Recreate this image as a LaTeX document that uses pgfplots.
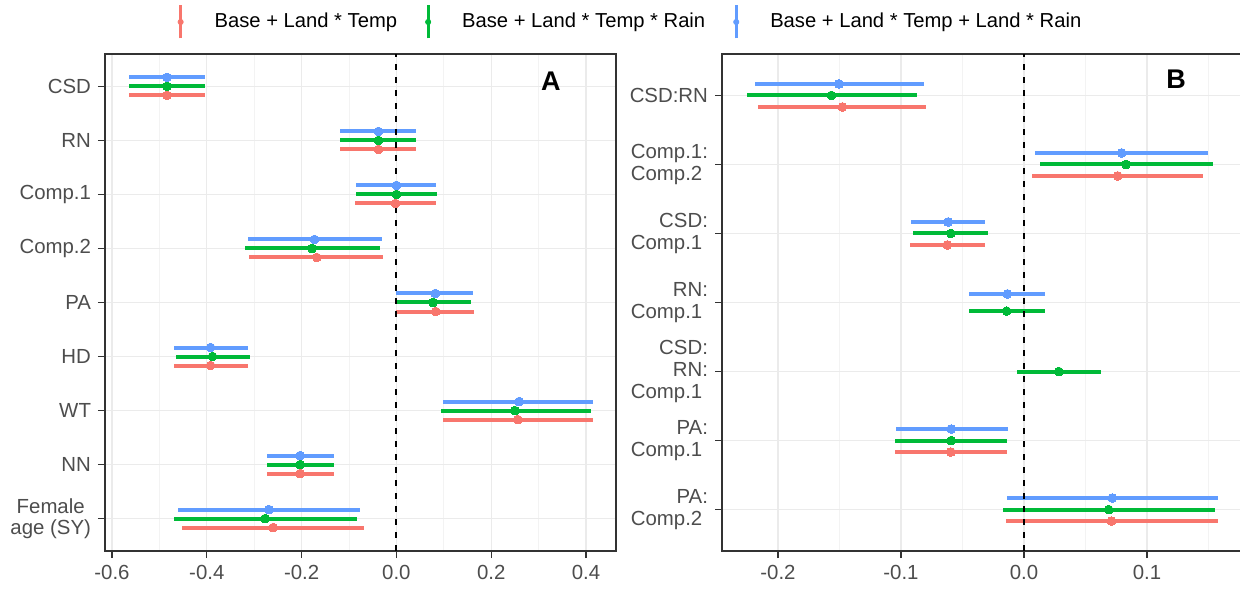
\documentclass[border=0pt]{standalone}
\usepackage{fontspec}
\setmainfont{Liberation Sans}
\usepackage{pgfplots}
\pgfplotsset{compat=1.18}
\usepackage{pgfplotstable}

\definecolor{cR}{HTML}{F8766D}
\definecolor{cG}{HTML}{00BA38}
\definecolor{cB}{HTML}{619CFF}
\definecolor{gridmaj}{HTML}{EBEBEB}
\definecolor{gridmin}{HTML}{F3F3F3}
\definecolor{frame}{HTML}{333333}
\definecolor{ticktxt}{HTML}{4D4D4D}

% panel A: y = dodged position (category 9 = CSD at top), lo / mid / hi
\pgfplotstableread{
y lo mid hi
8.8333 -0.565 -0.484 -0.403
7.8333 -0.118 -0.038 0.042
6.8333 -0.088 -0.002 0.083
5.8333 -0.310 -0.168 -0.028
4.8333 0.000 0.083 0.163
3.8333 -0.470 -0.392 -0.314
2.8333 0.098 0.256 0.415
1.8333 -0.274 -0.203 -0.132
0.8333 -0.453 -0.260 -0.069
}\Ared
\pgfplotstableread{
y lo mid hi
9 -0.565 -0.484 -0.403
8 -0.118 -0.038 0.042
7 -0.086 0.000 0.085
6 -0.319 -0.178 -0.034
5 -0.004 0.077 0.158
4 -0.465 -0.388 -0.309
3 0.094 0.250 0.410
2 -0.274 -0.203 -0.132
1 -0.470 -0.277 -0.083
}\Agreen
\pgfplotstableread{
y lo mid hi
9.1667 -0.565 -0.484 -0.403
8.1667 -0.118 -0.038 0.042
7.1667 -0.086 0.000 0.083
6.1667 -0.314 -0.173 -0.030
5.1667 0.000 0.082 0.162
4.1667 -0.470 -0.392 -0.314
3.1667 0.099 0.259 0.415
2.1667 -0.274 -0.203 -0.132
1.1667 -0.461 -0.269 -0.076
}\Ablue

% panel B
\pgfplotstableread{
y lo mid hi
6.8333 -0.2164 -0.1476 -0.0794
5.8333 0.0064 0.0762 0.1456
4.8333 -0.0923 -0.0624 -0.0318
1.8333 -0.1048 -0.0595 -0.0135
0.8333 -0.0145 0.0711 0.1575
}\Bred
\pgfplotstableread{
y lo mid hi
7 -0.2251 -0.1566 -0.0868
6 0.0129 0.0829 0.1537
5 -0.0900 -0.0595 -0.0296
3.875 -0.0450 -0.0141 0.0167
3 -0.0058 0.0283 0.0627
2 -0.1048 -0.0592 -0.0135
1 -0.0174 0.0688 0.1553
}\Bgreen
\pgfplotstableread{
y lo mid hi
7.1667 -0.2186 -0.1505 -0.0813
6.1667 0.0090 0.0794 0.1495
5.1667 -0.0916 -0.0617 -0.0315
4.125 -0.0444 -0.0135 0.0167
2.1667 -0.1042 -0.0592 -0.0129
1.1667 -0.0141 0.0717 0.1575
}\Bblue

\pgfplotsset{
  panel/.style={
    scale only axis, anchor=south west, height=248.5bp,
    axis line style={draw=frame, line width=0.6bp},
    tick align=outside, major tick length=3.5bp, minor tick length=0pt,
    major tick style={draw=frame, line width=0.6bp},
    xtick pos=lower, ytick pos=left,
    xmajorgrids, xminorgrids, ymajorgrids,
    major grid style={draw=gridmaj, line width=0.6bp},
    minor grid style={draw=gridmin, line width=0.4bp},
    tick label style={font=\fontsize{10.2bp}{10.8bp}\selectfont, text=ticktxt},
    ymin=0.4,
  },
  pr/.style={color=#1, only marks, mark=*, mark size=2.2bp,
    mark options={fill=#1, draw=#1, line width=0pt},
    error bars/x dir=both, error bars/x explicit, error bars/error mark=none,
    error bars/error bar style={line width=2bp, color=#1}},
}

\begin{document}
\begin{tikzpicture}
\useasboundingbox (0,0) rectangle (620bp,296bp);

\begin{axis}[panel, at={(52.5bp,20.5bp)}, width=255.5bp,
  xmin=-0.6148, xmax=0.4633, ymax=9.6,
  xtick={-0.6,-0.4,-0.2,0,0.2,0.4},
  xticklabels={-0.6,-0.4,-0.2,0.0,0.2,0.4},
  minor xtick={-0.5,-0.3,-0.1,0.1,0.3},
  ytick={1,2,3,4,5,6,7,8,9},
  yticklabels={Female\\age (SY),NN,WT,HD,PA,Comp.2,Comp.1,RN,CSD},
  yticklabel style={align=center},
  legend columns=3,
  legend style={draw=none, fill=none, inner sep=0pt, at={(1.0254,1.0644)}, anchor=center,
    font=\fontsize{10.1bp}{12bp}\selectfont, nodes={inner sep=0pt},
    /tikz/every even column/.append style={column sep=13.5bp}},
]
\addplot[pr=cR, legend image code/.code={
    \path[draw=none] (-2bp,0bp) rectangle (17bp,1bp);
    \draw[cR, line width=1.5bp, solid] (0bp,-8.25bp) -- (0bp,8.25bp);
    \fill[cR] (0bp,0bp) circle (1.3bp);}]
  table[x=mid, y=y, x error minus expr={\thisrow{mid}-\thisrow{lo}}, x error plus expr={\thisrow{hi}-\thisrow{mid}}] {\Ared};
\addlegendentry{Base + Land * Temp}
\addplot[pr=cG, legend image code/.code={
    \path[draw=none] (-2bp,0bp) rectangle (17bp,1bp);
    \draw[cG, line width=1.5bp, solid] (0bp,-8.25bp) -- (0bp,8.25bp);
    \fill[cG] (0bp,0bp) circle (1.3bp);}]
  table[x=mid, y=y, x error minus expr={\thisrow{mid}-\thisrow{lo}}, x error plus expr={\thisrow{hi}-\thisrow{mid}}] {\Agreen};
\addlegendentry{Base + Land * Temp * Rain}
\addplot[pr=cB, legend image code/.code={
    \path[draw=none] (-2bp,0bp) rectangle (17bp,1bp);
    \draw[cB, line width=1.5bp, solid] (0bp,-8.25bp) -- (0bp,8.25bp);
    \fill[cB] (0bp,0bp) circle (1.3bp);}]
  table[x=mid, y=y, x error minus expr={\thisrow{mid}-\thisrow{lo}}, x error plus expr={\thisrow{hi}-\thisrow{mid}}] {\Ablue};
\addlegendentry{Base + Land * Temp + Land * Rain}
\addplot[black, line width=1bp, dash pattern=on 3bp off 3.5bp, forget plot] coordinates {(0,0.4) (0,9.6)};
\node[font=\bfseries\fontsize{13.5bp}{14bp}\selectfont] at (axis cs:0.326,9.09) {A};
\end{axis}

\begin{axis}[panel, at={(361bp,20.5bp)}, width=260bp,
  xmin=-0.2455, xmax=0.1772, ymax=7.6,
  xtick={-0.2,-0.1,0,0.1},
  xticklabels={-0.2,-0.1,0.0,0.1},
  minor xtick={-0.15,-0.05,0.05,0.15},
  ytick={1,2,3,4,5,6,7},
  yticklabels={PA:\\Comp.2\phantom{:},PA:\\Comp.1\phantom{:},CSD:\\RN:\\Comp.1\phantom{:},RN:\\Comp.1\phantom{:},CSD:\\Comp.1\phantom{:},Comp.1:\\Comp.2\phantom{:},CSD:RN},
  yticklabel style={align=right},
]
\addplot[pr=cR] table[x=mid, y=y, x error minus expr={\thisrow{mid}-\thisrow{lo}}, x error plus expr={\thisrow{hi}-\thisrow{mid}}] {\Bred};
\addplot[pr=cG] table[x=mid, y=y, x error minus expr={\thisrow{mid}-\thisrow{lo}}, x error plus expr={\thisrow{hi}-\thisrow{mid}}] {\Bgreen};
\addplot[pr=cB] table[x=mid, y=y, x error minus expr={\thisrow{mid}-\thisrow{lo}}, x error plus expr={\thisrow{hi}-\thisrow{mid}}] {\Bblue};
\addplot[black, line width=1bp, dash pattern=on 3bp off 3.5bp, forget plot] coordinates {(0,0.4) (0,7.6)};
\node[font=\bfseries\fontsize{13.5bp}{14bp}\selectfont] at (axis cs:0.1236,7.23) {B};
\end{axis}
\end{tikzpicture}
\end{document}
